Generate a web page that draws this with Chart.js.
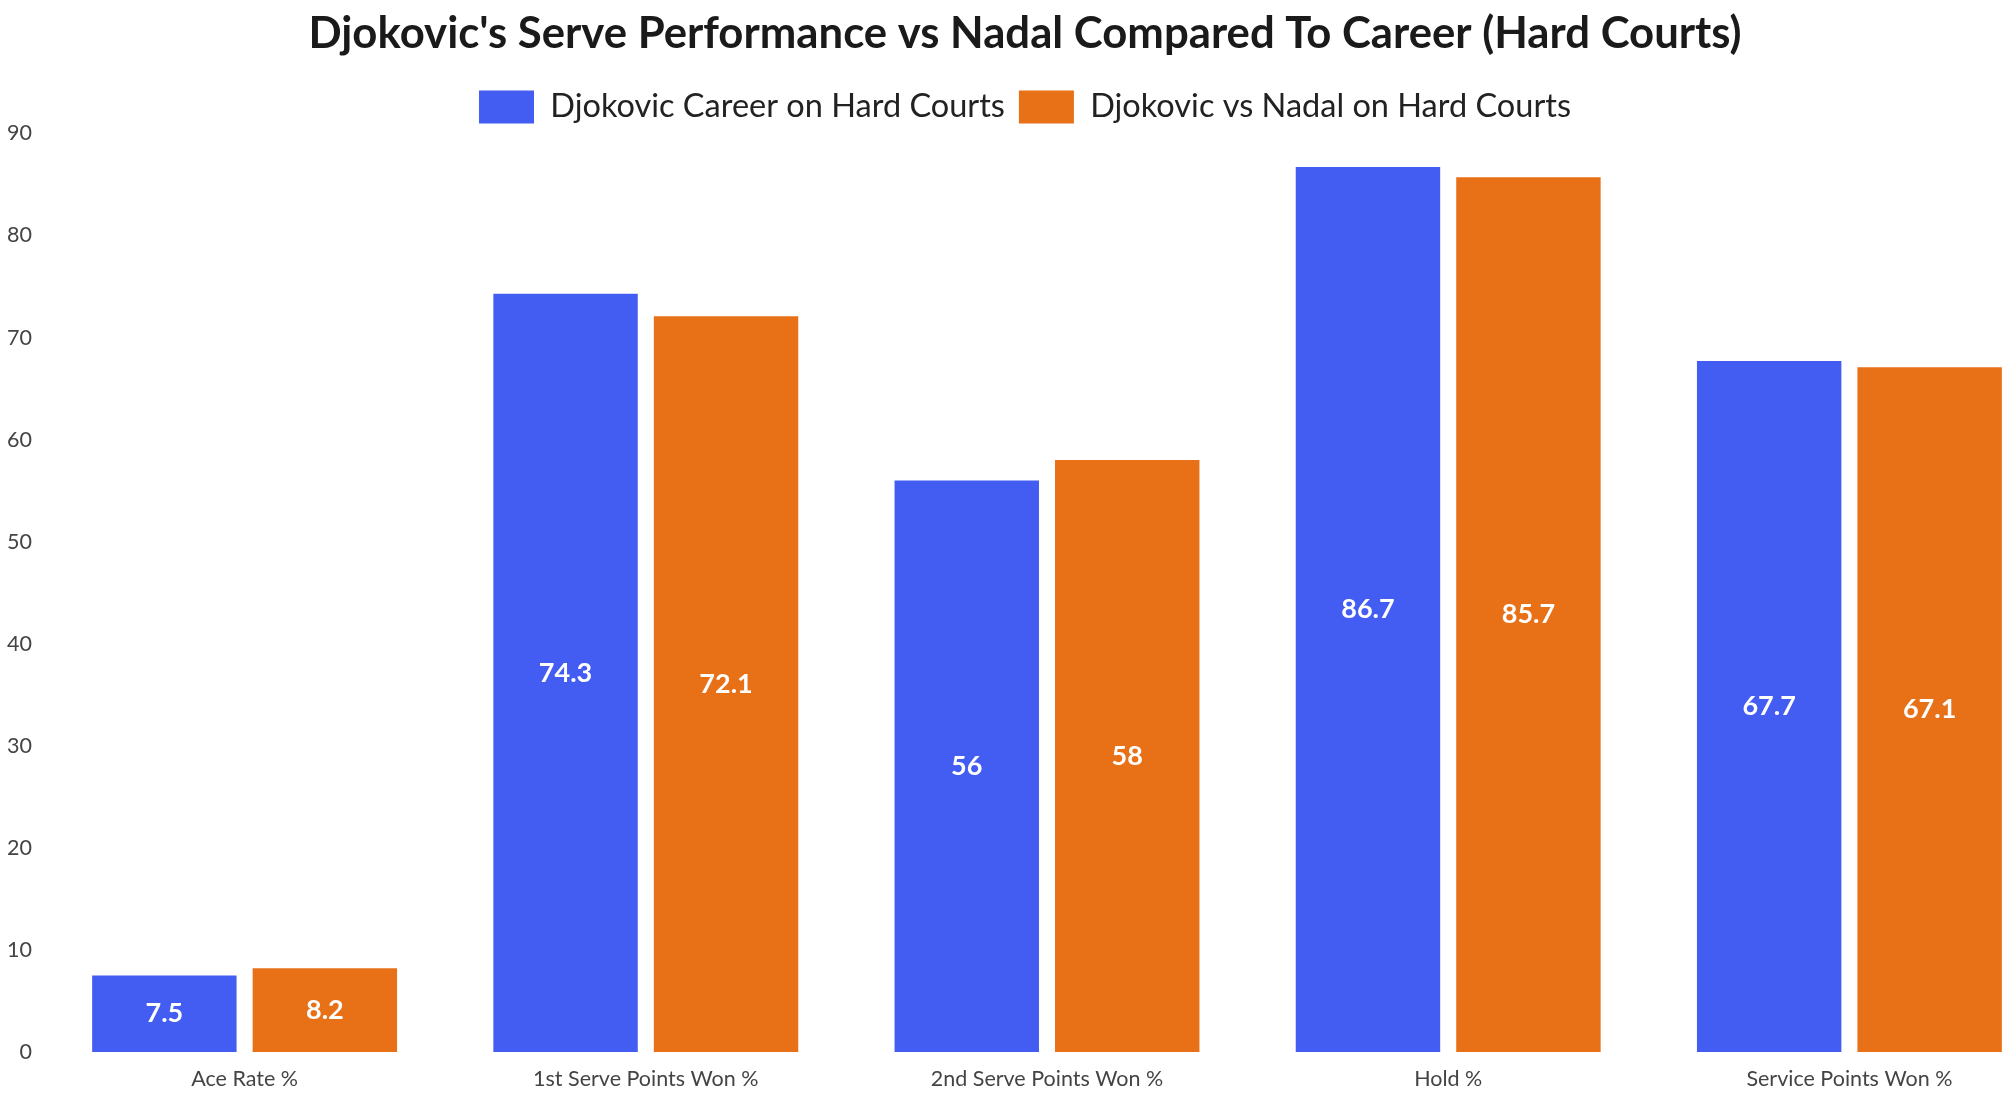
<!DOCTYPE html>
<html>
<head>
<meta charset="utf-8">
<title>Djokovic serve vs Nadal</title>
<script src="https://cdn.jsdelivr.net/npm/chart.js@4.4.1/dist/chart.umd.min.js"></script>
<style>
  html, body { margin: 0; padding: 0; background: #fff; overflow: hidden; }
  #chart { display: block; }
</style>
</head>
<body>
<canvas id="chart" width="2050" height="1100"></canvas>
<script>
const categories = ["Ace Rate %", "1st Serve Points Won %", "2nd Serve Points Won %", "Hold %", "Service Points Won %"];
const careerValues = [7.5, 74.3, 56, 86.7, 67.7];
const vsNadalValues = [8.2, 72.1, 58, 85.7, 67.1];
const seriesNames = ["Djokovic Career on Hard Courts", "Djokovic vs Nadal on Hard Courts"];

const blue = "#435cf2";
const orange = "#e87118";

// draws the value in the middle of each bar
const barValueLabels = {
  id: "barValueLabels",
  afterDatasetsDraw(chart) {
    const ctx = chart.ctx;
    ctx.save();
    ctx.font = "bold 27px Lato";
    ctx.fillStyle = "#ffffff";
    ctx.textAlign = "center";
    ctx.textBaseline = "middle";
    chart.data.datasets.forEach((ds, i) => {
      chart.getDatasetMeta(i).data.forEach((bar, j) => {
        ctx.fillText(String(ds.data[j]), bar.x, (bar.y + bar.base) / 2);
      });
    });
    ctx.restore();
  }
};

const ctx = document.getElementById("chart").getContext("2d");
new Chart(ctx, {
  type: "bar",
  data: {
    labels: categories,
    datasets: [
      { label: seriesNames[0], data: careerValues, backgroundColor: blue, borderWidth: 0 },
      { label: seriesNames[1], data: vsNadalValues, backgroundColor: orange, borderWidth: 0 }
    ]
  },
  options: {
    responsive: false,
    animation: false,
    devicePixelRatio: 1,
    layout: { padding: { top: 8, bottom: 0, left: 0, right: 0 } },
    plugins: {
      title: {
        display: true,
        text: "Djokovic's Serve Performance vs Nadal Compared To Career (Hard Courts)",
        color: "#1a1a1a",
        font: { family: "Lato", size: 43.7, weight: "bold" },
        padding: { top: 0, bottom: 16 }
      },
      legend: {
        labels: {
          color: "#222",
          font: { family: "Lato", size: 32.5 },
          boxWidth: 55,
          boxHeight: 33,
          padding: 14
        }
      },
      tooltip: { enabled: false }
    },
    scales: {
      x: {
        grid: { display: false, drawTicks: false },
        border: { display: false },
        ticks: { color: "#444", font: { family: "Lato", size: 21.5 }, padding: 14, maxRotation: 0 },
        afterFit: (scale) => { scale.height = 48; }
      },
      y: {
        min: 0,
        max: 90,
        grid: { display: false, drawTicks: false },
        border: { display: false },
        ticks: { stepSize: 10, color: "#444", font: { family: "Lato", size: 21.5 }, padding: 12 },
        afterFit: (scale) => { scale.width = 44; }
      }
    }
  },
  plugins: [barValueLabels]
});
</script>
</body>
</html>
